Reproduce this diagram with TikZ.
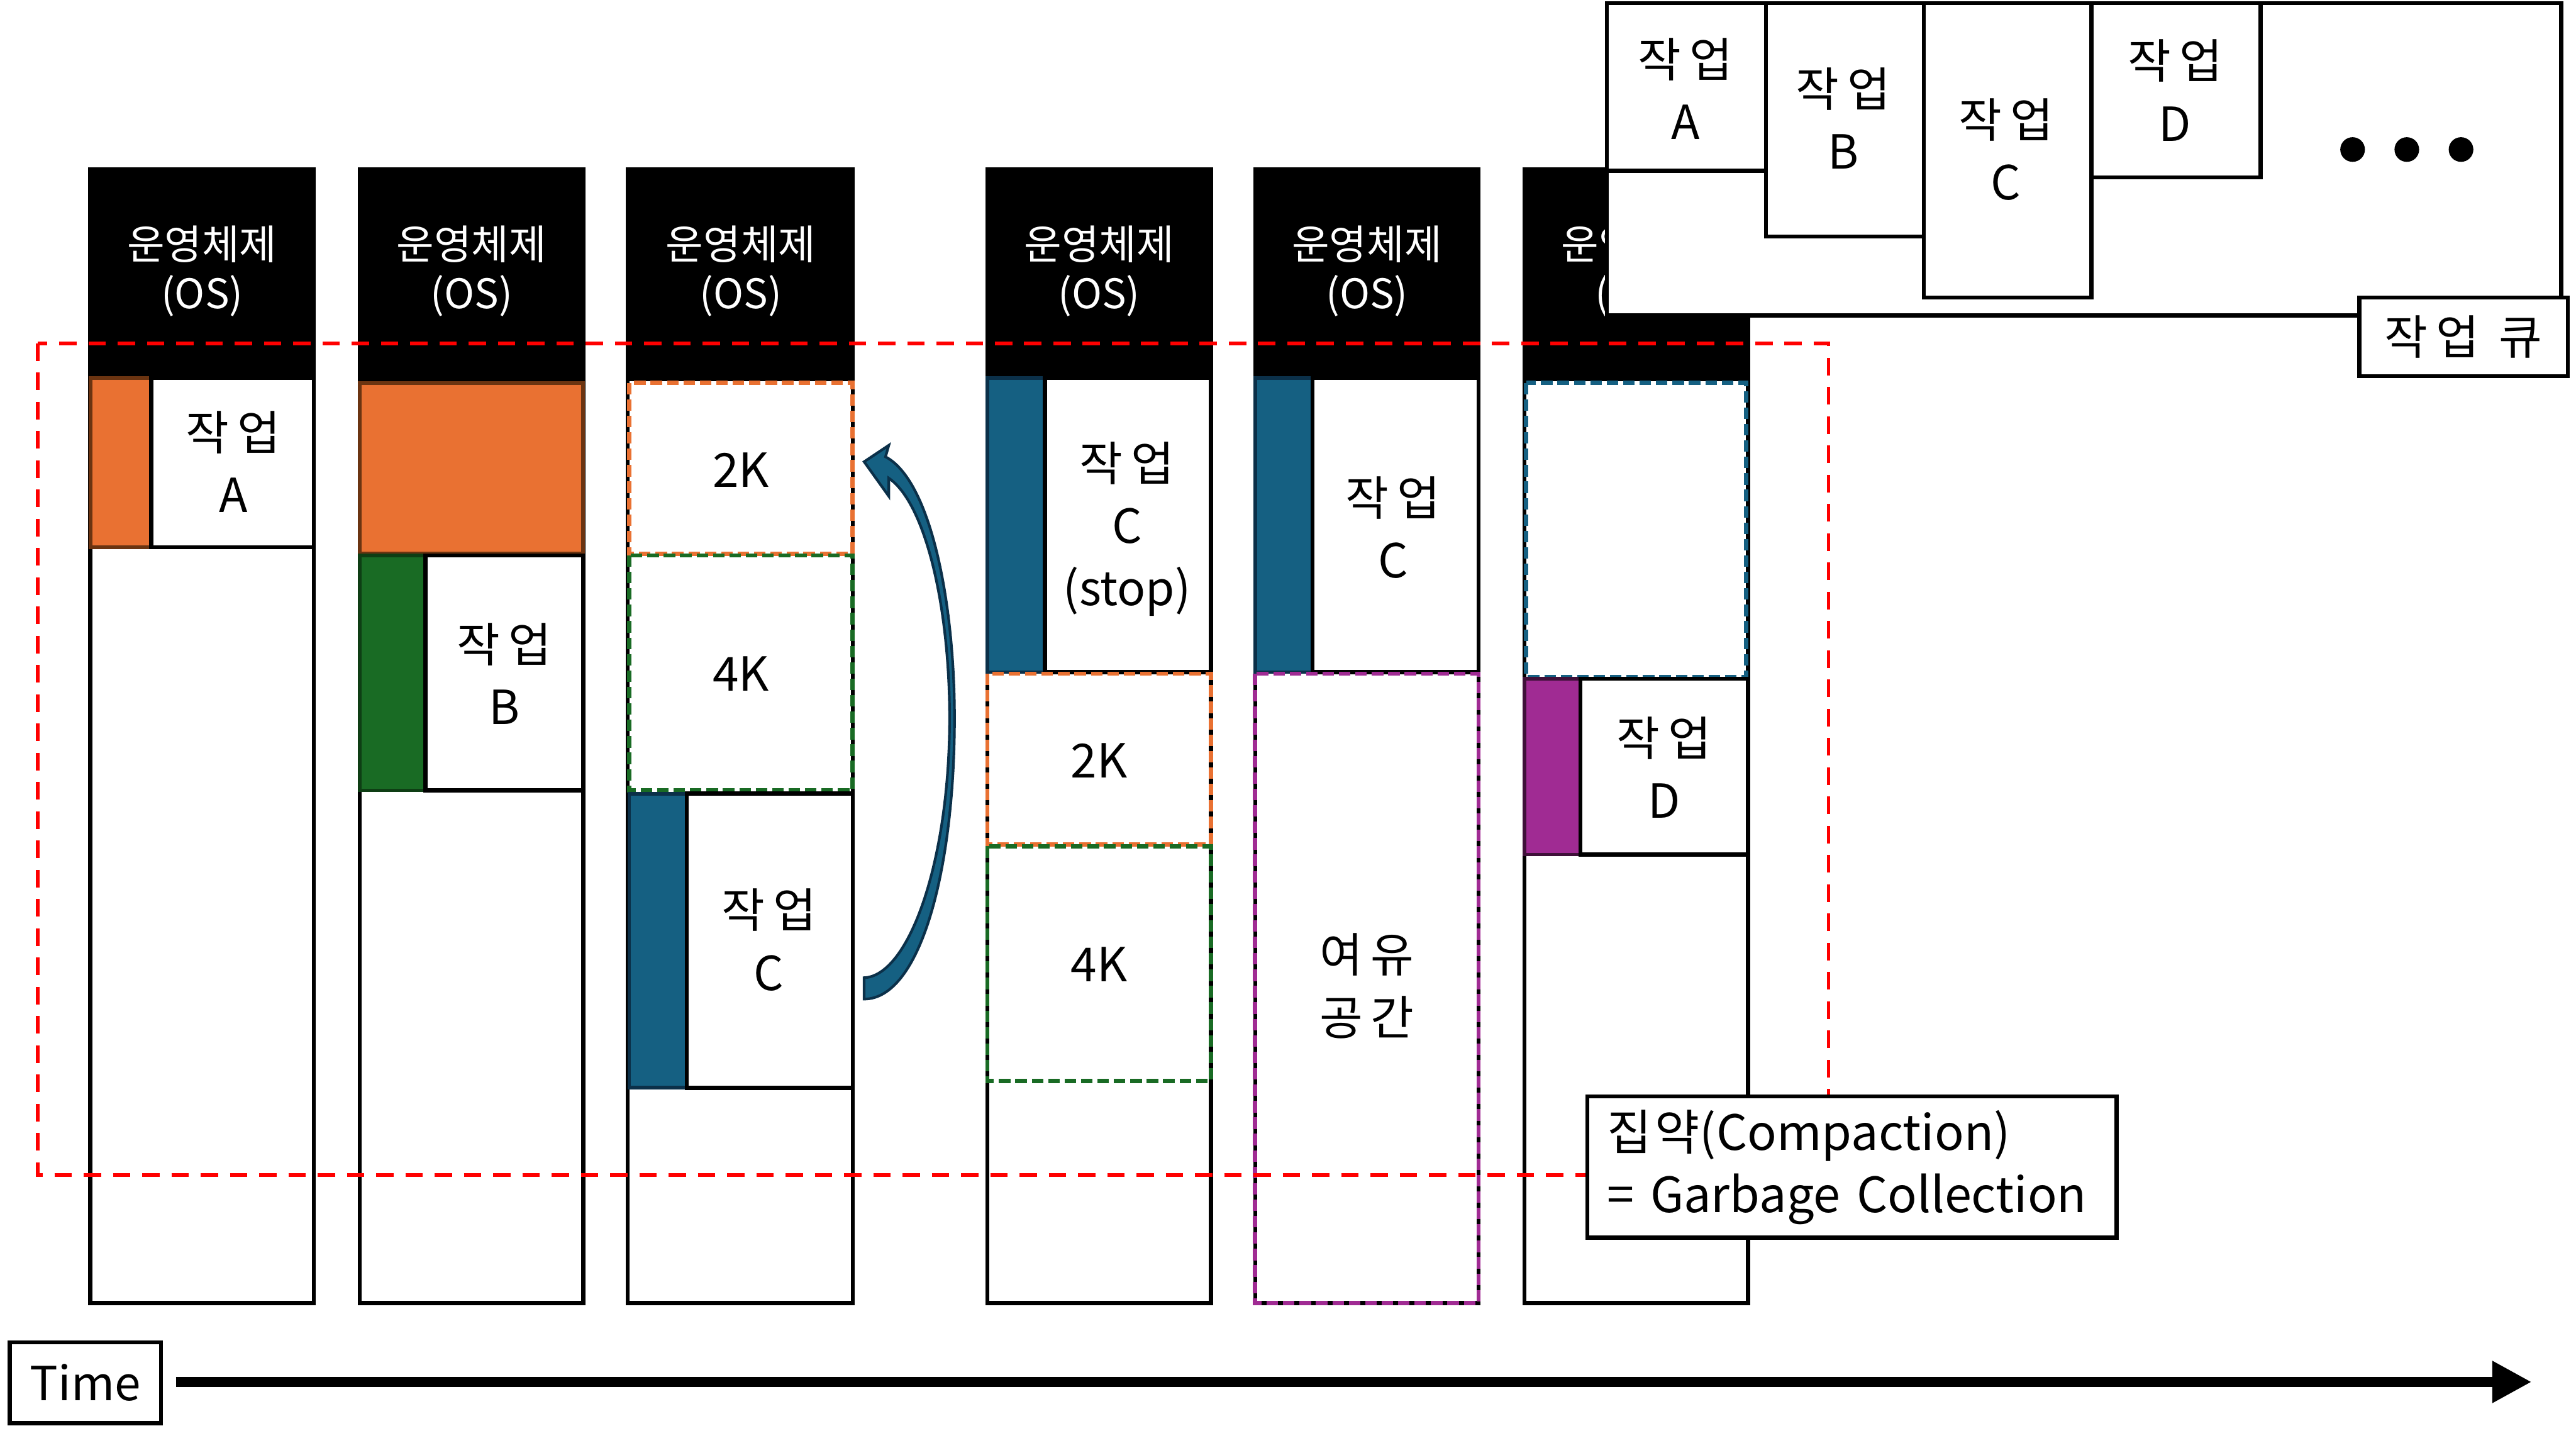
\documentclass[tikz,border=0pt]{standalone}
\usepackage{fontspec}
\setmainfont{Noto Sans CJK KR}
\usetikzlibrary{arrows.meta}
\definecolor{jorange}{HTML}{E97132}
\definecolor{jorangeb}{HTML}{6B3411}
\definecolor{jgreen}{HTML}{196B24}
\definecolor{jgreenb}{HTML}{0E3E14}
\definecolor{jblue}{HTML}{156082}
\definecolor{jblueb}{HTML}{0B3049}
\definecolor{jpurple}{HTML}{A02B93}
\definecolor{jpurpleb}{HTML}{3F1039}
\definecolor{jred}{HTML}{FF0000}
\newcommand\kk{\kern2.5pt}
\newcommand\jobword{작\kk 업}
\tikzset{
  colline/.style={draw=black, fill=white, line width=1.25pt},
  osblock/.style={fill=black},
  oslabel/.style={text=white, align=center, inner sep=0pt, font=\fontsize{12.4}{15}\selectfont},
  lbl/.style={text=black, align=center, inner sep=0pt, font=\fontsize{14.3}{19}\selectfont},
  jobbox/.style={draw=black, fill=white, line width=1.25pt},
  obar/.style={fill=jorange, draw=jorangeb, line width=1.1pt},
  gbar/.style={fill=jgreen, draw=jgreenb, line width=1.1pt},
  bbar/.style={fill=jblue, draw=jblueb, line width=1.1pt},
  pbar/.style={fill=jpurple, draw=jpurpleb, line width=1.1pt},
  odash/.style={draw=jorange, line width=1.3pt, dash pattern=on 3.5pt off 1.5pt},
  gdash/.style={draw=jgreen, line width=1.3pt, dash pattern=on 3.5pt off 1.5pt},
  bdash/.style={draw=jblue, line width=1.3pt, dash pattern=on 3.5pt off 1.5pt},
  pdash/.style={draw=jpurple, line width=1.3pt, dash pattern=on 3.5pt off 1.5pt},
  reddash/.style={draw=jred, line width=1.1pt, dash pattern=on 5.3pt off 3.6pt},
  plainbox/.style={draw=black, fill=white, line width=1.25pt}
}
\begin{document}
\begin{tikzpicture}[x=0.5pt,y=-0.5pt]
\useasboundingbox (0,0) rectangle (1568,878);
\fill[white] (0,0) rectangle (1568,878);

% ---------- column 1 ----------
\draw[colline] (55,103) rectangle (191,793);
\fill[osblock] (55,103) rectangle (191,231);
\node[oslabel] (os1) at (123,165) {운영체제\\(OS)};
\draw[obar] (55,230) rectangle (191,333);
\draw[jobbox] (92,230) rectangle (191,333);
\node[lbl] (ja1) at (142,281) {\jobword\\A};

% ---------- column 2 ----------
\draw[colline] (219,103) rectangle (355,793);
\fill[osblock] (219,103) rectangle (355,232);
\node[oslabel] (os2) at (287,165) {운영체제\\(OS)};
\draw[obar] (219,233) rectangle (355,337);
\draw[gbar] (219,338) rectangle (259,481);
\draw[jobbox] (259,338) rectangle (355,481);
\node[lbl] (jb2) at (307,410) {\jobword\\B};

% ---------- column 3 ----------
\draw[colline] (382,103) rectangle (519,793);
\fill[osblock] (382,103) rectangle (519,232);
\node[oslabel] (os3) at (451,165) {운영체제\\(OS)};
\draw[odash] (383,233) rectangle (519,337);
\node[lbl] (k2a) at (451,286) {2K};
\draw[gdash] (383,338) rectangle (519,481);
\node[lbl] (k4a) at (451,410) {4K};
\draw[bbar] (383,483) rectangle (418,662);
\draw[jobbox] (418,483) rectangle (519,662);
\node[lbl] (jc3) at (468,572) {\jobword\\C};

% curved block arrow (job C moved up)
\draw[fill=jblue, draw=jblueb, line width=0.8pt, line join=miter]
  (526,281) -- (541,271) -- (539,278)
  .. controls (566,292) and (581,365) .. (581,437)
  .. controls (581,530) and (560,608) .. (526,608)
  -- (526,595)
  .. controls (553,594) and (578,525) .. (578,437)
  .. controls (578,368) and (563,306) .. (541,291)
  -- (541,302) -- cycle;

% ---------- column 4 ----------
\draw[colline] (601,103) rectangle (737,793);
\fill[osblock] (601,103) rectangle (737,231);
\node[oslabel] (os4) at (669,165) {운영체제\\(OS)};
\draw[bbar] (601,230) rectangle (636,409);
\draw[jobbox] (636,230) rectangle (737,409);
\node[lbl] (jc4) at (686,322) {\jobword\\C\\(stop)};
\draw[odash] (601,410) rectangle (737,514);
\node[lbl] (k2b) at (669,463) {2K};
\draw[gdash] (601,515) rectangle (737,658);
\node[lbl] (k4b) at (669,587) {4K};

% ---------- column 5 ----------
\draw[colline] (764,103) rectangle (900,793);
\fill[osblock] (764,103) rectangle (900,231);
\node[oslabel] (os5) at (832,165) {운영체제\\(OS)};
\draw[bbar] (764,230) rectangle (799,409);
\draw[jobbox] (799,230) rectangle (900,409);
\node[lbl] (jc5) at (848,321) {\jobword\\C};
\draw[pdash] (764,410) rectangle (900,793);
\node[lbl] (free5) at (832,600) {여\kk 유\\공\kk 간};

% ---------- column 6 ----------
\draw[colline] (928,103) rectangle (1064,793);
\fill[osblock] (928,103) rectangle (1064,232);
\node[oslabel] (os6) at (996,165) {운영체제\\(OS)};
\draw[bdash] (929,233) rectangle (1063,412);
\draw[pbar] (928,413) rectangle (962,520);
\draw[jobbox] (962,413) rectangle (1064,520);
\node[lbl] (jd6) at (1013,467) {\jobword\\D};

% ---------- red dashed region ----------
\draw[reddash] (23,209) rectangle (1113,715);

% ---------- job queue ----------
\draw[plainbox] (978,2) rectangle (1559,192);
\draw[plainbox] (978,2) rectangle (1075,104);
\node[lbl] (qa) at (1026,54) {\jobword\\A};
\draw[plainbox] (1075,2) rectangle (1171,144);
\node[lbl] (qb) at (1122,72) {\jobword\\B};
\draw[plainbox] (1171,2) rectangle (1273,181);
\node[lbl] (qc) at (1221,91) {\jobword\\C};
\draw[plainbox] (1273,2) rectangle (1376,108);
\node[lbl] (qd) at (1324,55) {\jobword\\D};
\fill (1432,91) circle (7.5);
\fill (1465,91) circle (7.5);
\fill (1498,91) circle (7.5);
\node[plainbox, lbl, minimum width=63.5pt, minimum height=24pt] (qlabel) at (1499.5,205) {\jobword\hspace{6pt}큐};

% ---------- compaction note ----------
\node[plainbox, lbl, align=left, anchor=north west, minimum width=161pt, minimum height=43pt, inner xsep=6pt, inner ysep=0pt, text width=149pt, font=\fontsize{14.8}{19}\selectfont] (note) at (965,666) {집\kern1pt 약(Compaction)\\= Garbage Collection};

% ---------- time axis ----------
\node[plainbox, lbl, minimum width=46pt, minimum height=24.5pt] (time) at (52,841.5) {Time};
\coordinate (tend) at (1541,841);
\draw[line width=3pt, -{Triangle[length=12pt,width=12pt]}] (107,841) -- (tend);
\end{tikzpicture}
\end{document}
